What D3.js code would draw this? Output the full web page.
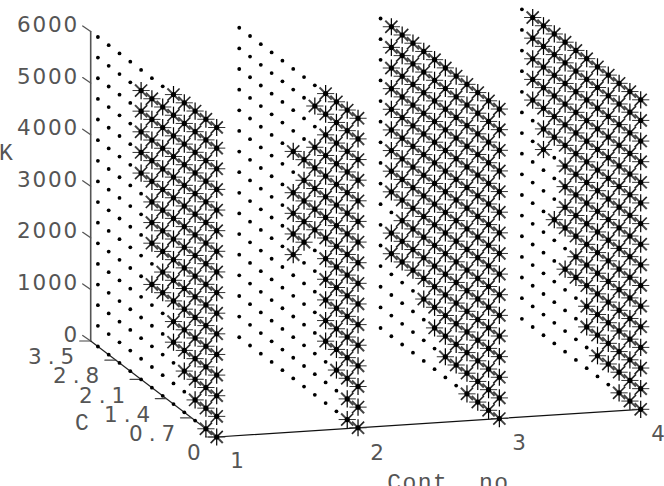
<!DOCTYPE html>
<html>
<head>
<meta charset="utf-8">
<script src="https://cdn.jsdelivr.net/npm/d3@7/dist/d3.min.js"></script>
<style>
html,body{margin:0;padding:0;background:#fff;overflow:hidden}
svg{display:block}
text{fill:#555}
.num{font-family:"DejaVu Sans",sans-serif;font-size:21.5px}
.title{font-family:"Liberation Mono",monospace;font-size:23px}
</style>
</head>
<body>
<svg id="chart" width="664" height="486"></svg>
<script>
// Grid of the experiment
const contexts = [1, 2, 3, 4];
const cValues = [0, 0.3, 0.6, 0.9, 1.2, 1.5, 1.8, 2.1, 2.4, 2.7, 3.0, 3.3];
const kValues = [0, 400, 800, 1200, 1600, 2000, 2400, 2800, 3200, 3600, 4000, 4400, 4800, 5200, 5600, 6000];

// Axis tick labels
const kTicks = [0, 1000, 2000, 3000, 4000, 5000, 6000];
const cTicks = [0, 0.7, 1.4, 2.1, 2.8, 3.5];
const cTickLabels = ["0", "0.7", "1.4", "2.1", "2.8", "3.5"];

// Outcome per context: one string per C value, one flag per K value (1 = asterisk)
const context1 = [
  "1111111111111111",
  "1111111111111111",
  "0111111111111111",
  "0011111111111111",
  "0001111111111111",
  "0000011111111110",
  "0000010111111110",
  "0000000000111110",
  "0000000000000000",
  "0000000000000000",
  "0000000000000000",
  "0000000000000000"
];
const context2 = [
  "1111111111111111",
  "1111111111111111",
  "0011111111111111",
  "0001111111111111",
  "0000000011111010",
  "0000000111110000",
  "0000001111010000",
  "0000000000000000",
  "0000000000000000",
  "0000000000000000",
  "0000000000000000",
  "0000000000000000"
];
const context3 = [
  "1111111111111111",
  "1111111111111111",
  "1111111111111111",
  "1111111111111111",
  "0111111111111111",
  "0111111111111111",
  "0011111111111111",
  "0001111111111111",
  "0000111111111111",
  "0000111111111111",
  "0000110111111111",
  "0000000000000000"
];
const context4 = [
  "1111111111111111",
  "1111111111111111",
  "1111111111111111",
  "0111111111111111",
  "0111111111111111",
  "0011111111111111",
  "0000111111111111",
  "0000101111111111",
  "0000001000111111",
  "0000000001111111",
  "0000000000011111",
  "0000000000000000"
];
const outcomes = [context1, context2, context3, context4];

// Oblique projection: each data axis adds its own pixel offset
const xContext = d3.scaleLinear().domain([1, 4]).range([216.7, 640.7]);
const yContext = d3.scaleLinear().domain([1, 4]).range([437, 409.3]);
const xC = d3.scaleLinear().domain([0, 3.5]).range([0, -126]);
const yC = d3.scaleLinear().domain([0, 3.5]).range([0, -96]);
const yK = d3.scaleLinear().domain([0, 6000]).range([0, -309.5]);
const px = (n, c) => xContext(n) + xC(c);
const py = (n, c, k) => yContext(n) + yC(c) + yK(k);

const svg = d3.select("#chart");

// Every grid position, flagged from the outcome tables
const points = contexts.flatMap((n, ni) =>
  cValues.flatMap((c, ci) =>
    kValues.map((k, ki) => ({ n, c, k, star: outcomes[ni][ci][ki] === "1" }))));

// Axis lines
const axes = svg.append("g").attr("fill", "none").attr("stroke-linecap", "round");
const line = d3.line();
axes.append("path")
  .attr("d", line([[px(1, 3.5), py(1, 3.5, 0)], [px(1, 3.5), py(1, 3.5, 6000)]]))
  .attr("stroke", "#555").attr("stroke-width", 1.6);
axes.append("path")
  .attr("d", line([[px(1, 0), py(1, 0, 0)], [px(1, 3.5), py(1, 3.5, 0)]]))
  .attr("stroke", "#222").attr("stroke-width", 1.2);
axes.append("path")
  .attr("d", line([[px(1, 0), py(1, 0, 0)], [px(4, 0), py(4, 0, 0)]]))
  .attr("stroke", "#111").attr("stroke-width", 1.2);

// Tick marks
axes.selectAll(".ktick").data(kTicks).join("path")
  .attr("class", "ktick")
  .attr("d", k => {
    const x = px(1, 3.5), y = py(1, 3.5, k);
    return line([[x, y], [x - 8, y - 5.5]]);
  })
  .attr("stroke", "#555").attr("stroke-width", 1.3);
axes.selectAll(".ctick").data(cTicks).join("path")
  .attr("class", "ctick")
  .attr("d", c => {
    const x = px(1, c), y = py(1, c, 0);
    return line([[x, y], [x - 11, y]]);
  })
  .attr("stroke", "#444").attr("stroke-width", 1.2);

// Round markers at all grid positions
svg.append("g").selectAll("circle").data(points).join("circle")
  .attr("cx", d => px(d.n, d.c))
  .attr("cy", d => py(d.n, d.c, d.k))
  .attr("r", 1.9)
  .attr("fill", "#000");

// Asterisks: an upright cross and a diagonal cross
const R = 8.6, D = R * Math.SQRT1_2;
const arms = [
  { dx: R, dy: 0, color: "#333", width: 1 },
  { dx: D, dy: D, color: "#444", width: 2 },
  { dx: D, dy: -D, color: "#222", width: 1.6 },
  { dx: 0, dy: R, color: "#000", width: 1.2 }
];
const stars = svg.append("g").selectAll("g").data(points.filter(d => d.star)).join("g")
  .attr("transform", d => `translate(${px(d.n, d.c)},${py(d.n, d.c, d.k)})`);
stars.selectAll("line").data(arms).join("line")
  .attr("x1", a => -a.dx).attr("y1", a => -a.dy)
  .attr("x2", a => a.dx).attr("y2", a => a.dy)
  .attr("stroke", a => a.color)
  .attr("stroke-width", a => a.width);
stars.append("circle").attr("r", 2.6).attr("fill", "#000");

// Tick labels and axis titles
const labels = svg.append("g");
labels.selectAll(".klabel").data(kTicks).join("text")
  .attr("class", "klabel num")
  .attr("x", 79)
  .attr("y", k => py(1, 3.5, k) + 0.5)
  .attr("text-anchor", "end")
  .attr("letter-spacing", "1.8px")
  .text(k => k);

const cLabelAt = [[187, 460], [129, 441], [104, 421.5], [79, 402.5], [53, 383], [28, 364]];
labels.selectAll(".clabel").data(cTickLabels).join("text")
  .attr("class", "clabel num")
  .attr("x", (d, i) => cLabelAt[i][0])
  .attr("y", (d, i) => cLabelAt[i][1])
  .attr("letter-spacing", "6px")
  .text(d => d);

const contextLabelAt = [[237, 468], [377, 460], [519, 450], [658, 441]];
labels.selectAll(".nlabel").data(contexts).join("text")
  .attr("class", "nlabel num")
  .attr("x", (d, i) => contextLabelAt[i][0])
  .attr("y", (d, i) => contextLabelAt[i][1])
  .attr("text-anchor", "middle")
  .text(d => d);

labels.append("text").attr("class", "title").attr("x", 6).attr("y", 160).attr("text-anchor", "middle").text("K");
labels.append("text").attr("class", "title").attr("x", 82).attr("y", 430).attr("text-anchor", "middle").text("C");
labels.append("text").attr("class", "title").attr("x", 456).attr("y", 490).attr("text-anchor", "middle").attr("letter-spacing", "1.5px").text("Cont. no.");
</script>
</body>
</html>
